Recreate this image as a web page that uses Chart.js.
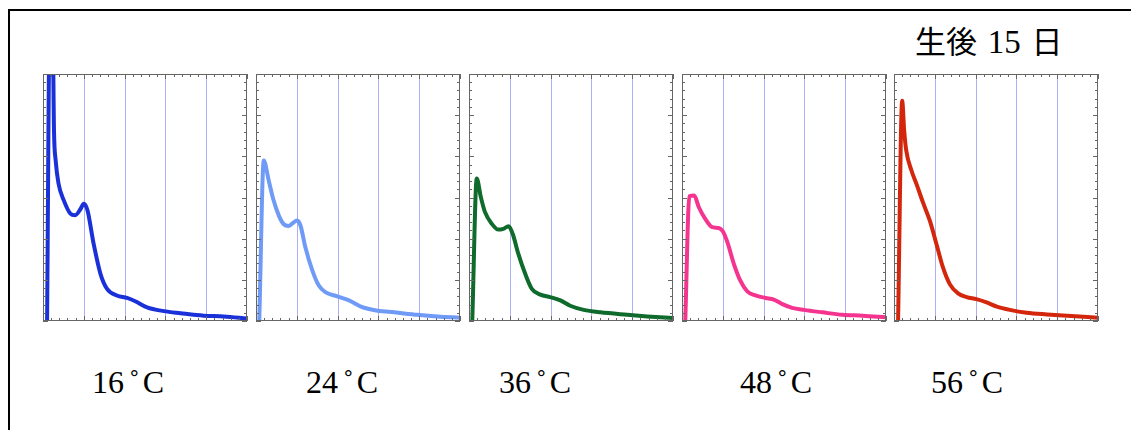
<!DOCTYPE html>
<html>
<head>
<meta charset="utf-8">
<script src="https://cdn.jsdelivr.net/npm/chart.js@4"></script>
<style>
  body { margin: 0; background: #fff; width: 1131px; height: 430px; overflow: hidden; position: relative; }
  #frame { position: absolute; left: 8px; top: 9px; width: 1160px; height: 460px; border: 2px solid #000; }
  canvas { position: absolute; }
  .lbl { position: absolute; top: 366px; width: 120px; margin-left: -60px; text-align: center;
         font: 32px "Liberation Serif", serif; line-height: 32px; color: #000; white-space: nowrap; }
  .lbl .deg { margin: 0 3px 0 5px; }
  #title { position: absolute; left: 915px; top: 27px; font: 31px "Liberation Serif", "Noto Sans CJK JP", serif;
           line-height: 31px; color: #000; white-space: nowrap; word-spacing: 3px; }
  #title .num { font-size: 33px; }
</style>
</head>
<body>
<div id="frame"></div>
<div id="title"></div>
<script>
// panel titles
const temps = ['16˚C', '24˚C', '36˚C', '48˚C', '56˚C'];
const dayTitle = ['生後', '15', '日'];

// axis ranges / gridlines (same for all panels)
const xMin = 0, xMax = 5, yMin = 0, yMax = 6;
const gridValues = [1, 2, 3, 4];

// 16 C
const x16 = [0.1, 0.165, 0.235, 0.27, 0.31, 0.38, 0.51, 0.67, 0.79, 0.92, 1.0, 1.09, 1.24, 1.41, 1.57, 1.81, 2.06, 2.26, 2.55, 2.96, 3.37, 3.94, 4.43, 5.0];
const y16 = [0, 7.2, 7.2, 4.6, 3.9, 3.34, 2.93, 2.61, 2.57, 2.72, 2.85, 2.69, 1.88, 1.14, 0.78, 0.62, 0.56, 0.48, 0.33, 0.24, 0.19, 0.13, 0.11, 0.06];
// 24 C
const x24 = [0.08, 0.19, 0.31, 0.42, 0.56, 0.68, 0.8, 0.93, 1.01, 1.09, 1.21, 1.38, 1.54, 1.7, 1.99, 2.28, 2.57, 2.98, 3.39, 3.96, 4.45, 5.0];
const y24 = [0, 3.9, 3.42, 2.97, 2.56, 2.35, 2.31, 2.4, 2.44, 2.32, 1.79, 1.23, 0.86, 0.7, 0.6, 0.5, 0.35, 0.25, 0.21, 0.15, 0.11, 0.08];
// 36 C
const x36 = [0.08, 0.19, 0.29, 0.39, 0.56, 0.72, 0.84, 0.97, 1.07, 1.21, 1.38, 1.54, 1.75, 1.99, 2.24, 2.48, 2.81, 3.22, 3.88, 4.37, 5.0];
const y36 = [0, 3.46, 3.01, 2.65, 2.36, 2.22, 2.24, 2.3, 2.12, 1.63, 1.14, 0.78, 0.64, 0.58, 0.5, 0.37, 0.27, 0.21, 0.15, 0.11, 0.07];
// 48 C
const x48 = [0.08, 0.18, 0.3, 0.41, 0.57, 0.74, 0.9, 1.0, 1.11, 1.27, 1.43, 1.6, 1.8, 2.05, 2.25, 2.46, 2.7, 2.99, 3.44, 3.93, 4.43, 5.0];
const y48 = [0, 3.03, 3.05, 2.77, 2.48, 2.28, 2.26, 2.18, 1.92, 1.39, 0.98, 0.72, 0.62, 0.56, 0.52, 0.41, 0.32, 0.27, 0.21, 0.15, 0.13, 0.09];
// 56 C
const x56 = [0.1, 0.2, 0.25, 0.3, 0.43, 0.55, 0.71, 0.88, 1.04, 1.2, 1.37, 1.57, 1.78, 2.02, 2.27, 2.52, 2.84, 3.25, 3.75, 4.24, 5.0];
const y56 = [0, 5.35, 4.62, 4.14, 3.65, 3.33, 2.88, 2.43, 1.87, 1.3, 0.89, 0.67, 0.58, 0.53, 0.45, 0.35, 0.27, 0.2, 0.16, 0.13, 0.08];

const seriesX = [x16, x24, x36, x48, x56];
const seriesY = [y16, y24, y36, y48, y56];
const colors = ['#1a30d8', '#6f9bf7', '#0e6b2b', '#f4348f', '#d3260c'];

// layout (plot area left edges, label centres)
const plotLeft = [43, 256, 469, 682, 894];
const plotTop = 74, plotW = 204, plotH = 247, pad = 6;
const labelCenter = [128, 342, 535, 776, 967];

// title: kanji + number + kanji
const title = document.getElementById('title');
dayTitle.forEach((part, i) => {
  const s = document.createElement('span');
  if (i === 1) s.className = 'num';
  s.textContent = part;
  title.appendChild(s);
  if (i < dayTitle.length - 1) title.appendChild(document.createTextNode(' '));
});

const framePlugin = {
  id: 'panelFrame',
  beforeDatasetsDraw(chart) {
    const { ctx, chartArea: a, scales: { x } } = chart;
    ctx.save();
    ctx.strokeStyle = 'rgba(120,120,240,0.6)';
    ctx.lineWidth = 1;
    gridValues.forEach(v => {
      const px = Math.round(x.getPixelForValue(v)) + 0.5;
      ctx.beginPath();
      ctx.moveTo(px, a.top);
      ctx.lineTo(px, a.bottom);
      ctx.stroke();
    });
    ctx.restore();
  },
  afterDatasetsDraw(chart) {
    const { ctx, chartArea: a, scales: { x, y } } = chart;
    ctx.save();
    ctx.strokeStyle = '#666';
    ctx.lineWidth = 1;
    ctx.beginPath();
    for (let i = 0; i <= (xMax - xMin) * 5; i++) {
      const px = Math.round(x.getPixelForValue(xMin + i / 5)) + 0.5;
      const len = i % 5 === 0 ? 5 : 3;
      ctx.moveTo(px, a.top); ctx.lineTo(px, a.top + len);
      ctx.moveTo(px, a.bottom); ctx.lineTo(px, a.bottom - len);
    }
    for (let i = 0; i <= (yMax - yMin) * 5; i++) {
      const py = Math.round(y.getPixelForValue(yMin + i / 5)) + 0.5;
      const len = i % 5 === 0 ? 5 : 3;
      ctx.moveTo(a.left, py); ctx.lineTo(a.left + len, py);
      ctx.moveTo(a.right, py); ctx.lineTo(a.right - len, py);
    }
    ctx.stroke();
    ctx.strokeRect(a.left + 0.5, a.top + 0.5, a.right - a.left - 1, a.bottom - a.top - 1);
    ctx.restore();
  }
};

temps.forEach((t, i) => {
  const cv = document.createElement('canvas');
  cv.width = plotW + 2 * pad;
  cv.height = plotH + 2 * pad;
  cv.style.left = (plotLeft[i] - pad) + 'px';
  cv.style.top = (plotTop - pad) + 'px';
  document.body.appendChild(cv);

  // label: number, raised ring, C
  const lbl = document.createElement('div');
  lbl.className = 'lbl';
  lbl.style.left = labelCenter[i] + 'px';
  const num = document.createElement('span');
  num.textContent = t.slice(0, -2);
  const deg = document.createElement('span');
  deg.className = 'deg';
  deg.textContent = t.slice(-2, -1);
  const unit = document.createElement('span');
  unit.textContent = t.slice(-1);
  lbl.append(num, deg, unit);
  document.body.appendChild(lbl);

  new Chart(cv.getContext('2d'), {
    type: 'line',
    data: {
      datasets: [{
        label: t,
        data: seriesX[i].map((v, k) => ({ x: v, y: seriesY[i][k] })),
        borderColor: colors[i],
        borderWidth: 4,
        borderJoinStyle: 'round',
        borderCapStyle: 'round',
        cubicInterpolationMode: 'monotone',
        pointRadius: 0,
        fill: false
      }]
    },
    options: {
      responsive: false,
      animation: false,
      layout: { padding: pad },
      scales: {
        x: { type: 'linear', min: xMin, max: xMax, display: false },
        y: { min: yMin, max: yMax, display: false }
      },
      plugins: { legend: { display: false }, tooltip: { enabled: false } }
    },
    plugins: [framePlugin]
  });
});
</script>
</body>
</html>
